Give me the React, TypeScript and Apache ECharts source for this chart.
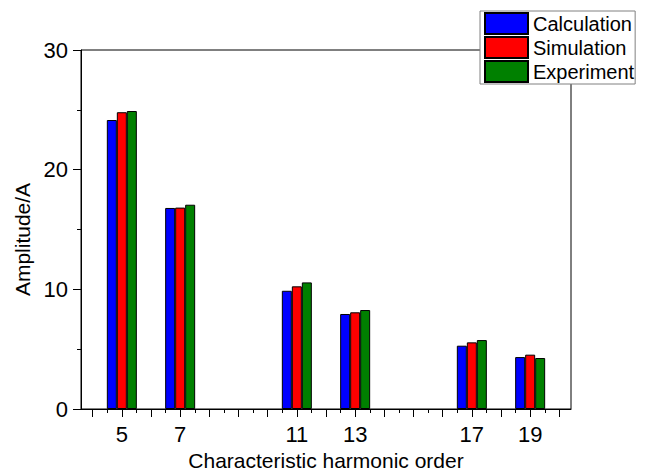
import React, { useEffect, useRef } from "react";
import * as echarts from "echarts";

const orders = [5, 7, 11, 13, 17, 19];
const calculation = [24.15, 16.8, 9.88, 7.94, 5.29, 4.34];
const simulation = [24.8, 16.83, 10.25, 8.08, 5.57, 4.54];
const experiment = [24.9, 17.07, 10.58, 8.27, 5.76, 4.26];
const majorTicks = [4, 5, 6, 7, 8, 9, 10, 11, 12, 13, 14, 15, 16, 17, 18, 19, 20];
const minorTicks = [4.5, 5.5, 6.5, 7.5, 8.5, 9.5, 10.5, 11.5, 12.5, 13.5, 14.5, 15.5, 16.5, 17.5, 18.5, 19.5];

const FONT = "Liberation Sans, Arial, sans-serif";

export default function App() {
  const ref = useRef<HTMLDivElement>(null);
  useEffect(() => {
    document.body.style.margin = "0";
    if (!ref.current) return;
    const chart = echarts.init(ref.current, undefined, { renderer: "svg" });
    const mk = (name: string, color: string, vals: number[]) => ({
      name,
      type: "bar",
      xAxisIndex: 0,
      barWidth: 10,
      barGap: "0%",
      itemStyle: { color, borderColor: "#000", borderWidth: 1 },
      data: orders.map((o, i) => [o, vals[i]]),
    });
    chart.setOption({
      animation: false,
      textStyle: { fontFamily: FONT },
      grid: {
        left: 81,
        right: 74,
        top: 50,
        bottom: 64,
        show: true,
        borderColor: "#000",
        borderWidth: 1,
        containLabel: false,
        outerBoundsMode: "none",
      },
      legend: {
        orient: "vertical",
        left: 480,
        top: 11,
        itemWidth: 43,
        itemHeight: 21,
        itemGap: 1,
        padding: [1, 1, 1, 4],
        borderColor: "#808080",
        borderWidth: 1,
        backgroundColor: "#fff",
        icon: "rect",
        textStyle: { fontFamily: FONT, fontSize: 20, color: "#000" },
        data: ["Calculation", "Simulation", "Experiment"],
      },
      xAxis: [
        {
          type: "value",
          min: 3.6,
          max: 20.4,
          position: "bottom",
          name: "Characteristic harmonic order",
          nameLocation: "middle",
          nameGap: 41,
          nameTextStyle: { fontFamily: FONT, fontSize: 21, color: "#000" },
          axisLine: { show: true, onZero: false, lineStyle: { color: "#000", width: 1 } },
          axisTick: { show: true, inside: false, length: 8, customValues: majorTicks, lineStyle: { color: "#000" } },
          axisLabel: { show: true, customValues: orders, margin: 14, fontSize: 22, color: "#000", fontFamily: FONT },
          splitLine: { show: false },
        },
        {
          type: "value",
          min: 3.6,
          max: 20.4,
          position: "bottom",
          offset: 0,
          axisLine: { show: false },
          axisTick: { show: true, inside: false, length: 4, customValues: minorTicks, lineStyle: { color: "#000" } },
          axisLabel: { show: false },
          splitLine: { show: false },
        },
      ],
      yAxis: {
        type: "value",
        min: 0,
        max: 30,
        interval: 10,
        name: "Amplitude/A",
        nameLocation: "middle",
        nameGap: 47,
        nameTextStyle: { fontFamily: FONT, fontSize: 21, color: "#000", padding: [0, 20, 0, 0] },
        axisLine: { show: true, lineStyle: { color: "#000", width: 1 } },
        axisTick: { show: true, inside: false, length: 8, lineStyle: { color: "#000" } },
        minorTick: { show: true, splitNumber: 2, length: 4, lineStyle: { color: "#000" } },
        axisLabel: { margin: 13, fontSize: 22, color: "#000", fontFamily: FONT },
        splitLine: { show: false },
        minorSplitLine: { show: false },
      },
      series: [
        mk("Calculation", "#0000ff", calculation),
        mk("Simulation", "#ff0000", simulation),
        mk("Experiment", "#008000", experiment),
      ],
    });
    return () => chart.dispose();
  }, []);
  return <div ref={ref} style={{ width: 645, height: 473 }} />;
}
